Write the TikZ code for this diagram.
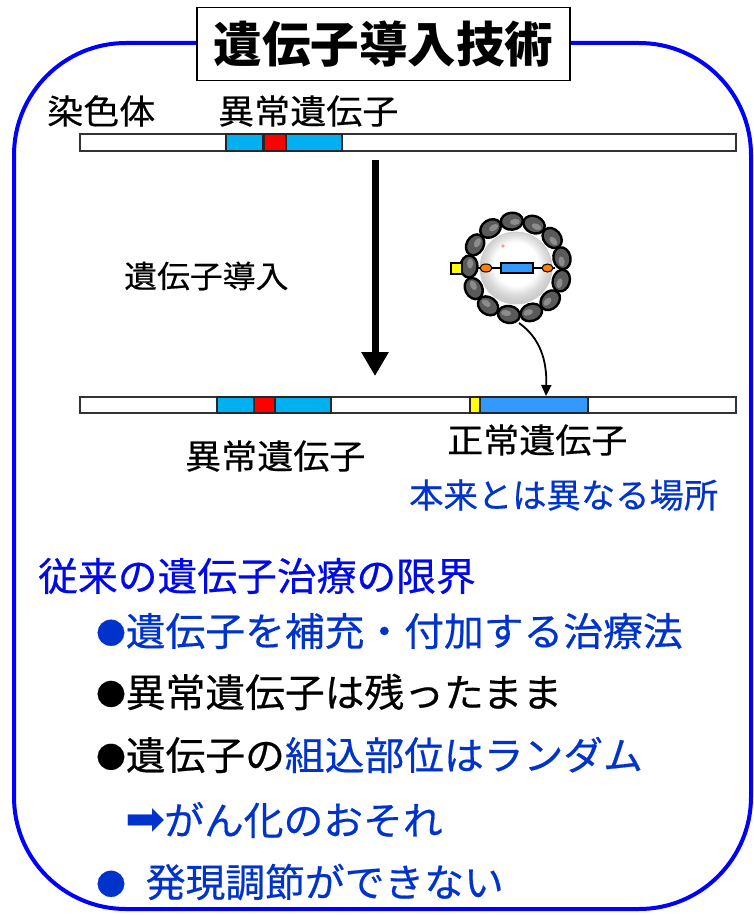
\documentclass[tikz,border=0pt]{standalone}
\usepackage{fontspec}
\usetikzlibrary{arrows.meta}
\setmainfont{Noto Sans CJK JP}
\newfontfamily\bodyfont{Noto Sans CJK JP}[FakeStretch=1.02, FakeBold=0.5]
\newfontfamily\labelfont{Noto Sans CJK JP}[FakeStretch=1.06, FakeBold=0.4]
\newfontfamily\symfont{DejaVu Sans}

\definecolor{frameblue}{RGB}{0,0,255}
\definecolor{headblue}{RGB}{0,10,230}
\definecolor{txtblue}{RGB}{0,51,204}
\definecolor{genecyan}{RGB}{0,176,240}
\definecolor{genered}{RGB}{255,0,0}
\definecolor{normalblue}{RGB}{51,153,255}
\definecolor{tagyellow}{RGB}{255,255,0}
\definecolor{capsid}{RGB}{90,90,90}

\pgfdeclareradialshading{vectorsphere}{\pgfpoint{0bp}{4bp}}{%
  color(0bp)=(white); color(15bp)=(white); color(21bp)=(black!14);
  color(25bp)=(black!20); color(50bp)=(black!20)}

\newcommand\blt{\raisebox{2pt}{\fontsize{29}{29}\selectfont ●}}

\tikzset{
  chrom/.style={draw=black!80, line width=1.6, fill=white},
  seg/.style={draw=black!85, line width=1.4},
  lbl/.style={anchor=west, inner sep=0, font=\labelfont\fontsize{34}{36}\selectfont},
  item/.style={anchor=west, inner sep=0, font=\bodyfont\fontsize{39}{42}\selectfont},
  blob/.style={fill=capsid, draw=black, line width=2.4},
}

\begin{document}
\begin{tikzpicture}[x=1pt, y=-1pt]
\useasboundingbox (0,0) rectangle (753,915);

% outer rounded frame, interrupted by the title box
\draw[frameblue, line width=4, rounded corners=112]
  (200,43) -- (14,43) -- (14,909) -- (751,909) -- (751,43) -- (566,43);

% title
\node[draw=black, line width=1.6, fill=white, minimum width=373, minimum height=73,
      inner sep=0, font=\fontsize{48.5}{50}\selectfont\bfseries] (title) at (383.5,44) {遺伝子導入技術};

% upper chromosome
\draw[chrom] (80,134) rectangle (736,151);
\draw[seg, fill=genecyan] (226,134) rectangle (263,151);
\draw[seg, fill=genered]  (264,134) rectangle (286,151);
\draw[seg, fill=genecyan] (286,134) rectangle (342,151);
\node[lbl] (chromlbl) at (47,111) {染色体};
\node[lbl] (badtop) at (218,111) {異常遺伝子};

% lower chromosome
\draw[chrom] (80,397) rectangle (736,413);
\draw[seg, fill=genecyan] (217,397) rectangle (254,413);
\draw[seg, fill=genered]  (254,397) rectangle (275,413);
\draw[seg, fill=genecyan] (275,397) rectangle (331,413);
\draw[seg, fill=tagyellow] (470,397) rectangle (480,413);
\draw[seg, fill=normalblue] (480,397) rectangle (588,413);
\coordinate (normaltop) at (546,396);
\coordinate (upperbar) at (375,160);
\coordinate (lowerbar) at (375,376);

\node[lbl] (badbot) at (185,456) {異常遺伝子};
\node[lbl] (goodbot) at (447,440) {正常遺伝子};
\node[lbl, txtblue, font=\labelfont\fontsize{34}{36}\selectfont\addfontfeature{FakeStretch=1.01}] (place) at (409,495) {本来とは異なる場所};

% transfer arrow
\draw[line width=7, -{Triangle[length=24pt, width=26pt]}] (upperbar) -- (lowerbar);
\node[lbl, font=\labelfont\fontsize{31}{34}\selectfont] (transfer) at (124,276) {遺伝子導入};

% viral vector: capsid beans around a lipid sphere carrying the gene
\begin{scope}[shift={(516,268)}]
  \foreach \a in {0,27.7,...,359} {
    \begin{scope}[rotate=\a+12]
      \draw[blob] (47,0) ellipse [x radius=8.5, y radius=11];
      \fill[black!45] (46,3) ellipse [x radius=3, y radius=5];
    \end{scope}
  }
  \shade[shading=vectorsphere] (0,0) circle (36);
  \draw[black!20, line width=0.8] (0,0) circle (36);
  \fill[pink!80!red] (-13,-22) circle (1.8);
  \draw[black, line width=1.2] (-38,0) -- (39,0);
  \draw[black, line width=1, fill=orange] (-30,0) ellipse [x radius=6, y radius=4];
  \draw[black, line width=1, fill=orange] (31.5,0) ellipse [x radius=5.5, y radius=4];
  \draw[black, line width=1.2, fill=normalblue] (-15,-5) rectangle (17,5);
\end{scope}
\draw[black, line width=1.2, fill=tagyellow] (451,263) rectangle (462,274);
\coordinate (virusout) at (519,323);
\draw[line width=1.8, -{Triangle[length=11pt, width=10pt]}]
  (virusout) .. controls (540,338) and (547,360) .. (normaltop);

% limitations of conventional gene therapy
\node[item, headblue] (head) at (38,576) {従来の遺伝子治療の限界};
\node[item, txtblue] (l1) at (96,631) {\blt 遺伝子を補充・付加する治療法};
\node[item] (l2) at (96,692) {\blt 異常遺伝子は残ったまま};
\node[item] (l3) at (96,755) {\blt 遺伝子の\textcolor{txtblue}{組込部位はランダム}};
\node[inner sep=0, anchor=west, txtblue, font=\symfont\fontsize{48}{48}\selectfont] (riskarrow) at (125,822) {➡};
\node[item, txtblue] (l4) at (164,820) {がん化のおそれ};
\node[item, txtblue] (l5) at (96,882) {\blt\hspace{20pt}発現調節ができない};
\end{tikzpicture}
\end{document}
